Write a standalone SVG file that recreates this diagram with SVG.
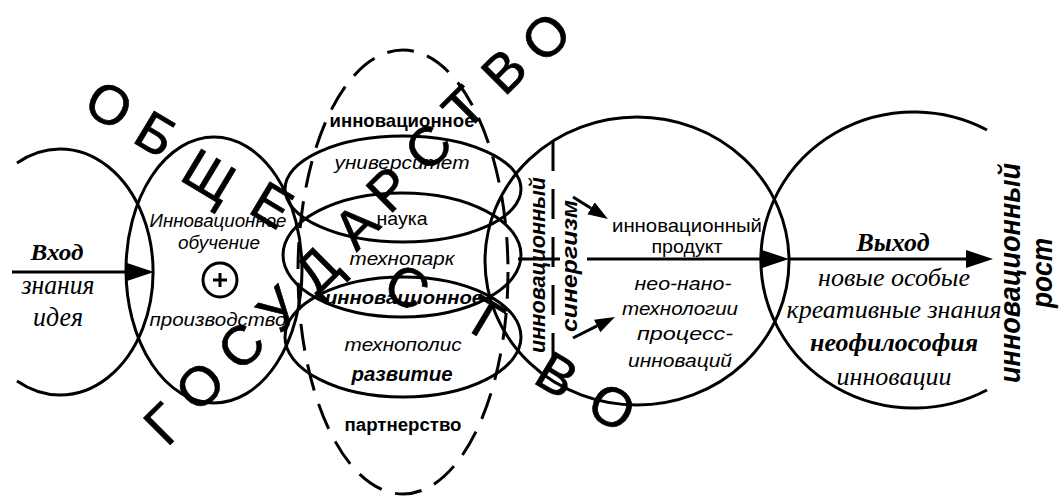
<svg xmlns="http://www.w3.org/2000/svg" width="1064" height="497" viewBox="0 0 1064 497">
<defs>
<style>
.l{fill:none;stroke:#000;stroke-width:3}
.d{fill:none;stroke:#000;stroke-width:3;stroke-dasharray:27 14}
.v{fill:none;stroke:#000;stroke-width:3;stroke-dasharray:30 18}
.s{font-family:"Liberation Sans",Arial,sans-serif;fill:#000}
.t{font-family:"Liberation Serif","Times New Roman",serif;fill:#000}
.i{font-style:italic}
.b{font-weight:bold}
.c{text-anchor:middle}
.big{font-family:"Liberation Sans",Arial,sans-serif;font-size:55px;text-anchor:middle;fill:#000;stroke:#000;stroke-width:0.7}
</style>
<marker id="ah" markerUnits="userSpaceOnUse" markerWidth="28" markerHeight="20" refX="0" refY="9" orient="auto">
<path d="M0,0 L27,9 L0,18 z" fill="#000"/>
</marker>
<marker id="as" markerUnits="userSpaceOnUse" markerWidth="22" markerHeight="16" refX="0" refY="7" orient="auto">
<path d="M0,0 L20,7 L0,14 z" fill="#000"/>
</marker>
</defs>
<rect width="1064" height="497" fill="#fff"/>

<g id="input">
<path class="l" d="M17,163 A93,123 0 1 1 17,381"/>
<text class="t i b c" x="57" y="260" font-size="24" textLength="53" lengthAdjust="spacingAndGlyphs">Вход</text>
<text class="t i c" x="58" y="294" font-size="28" textLength="73" lengthAdjust="spacingAndGlyphs">знания</text>
<text class="t i c" x="58" y="326" font-size="28" textLength="50" lengthAdjust="spacingAndGlyphs">идея</text>
</g>

<g id="learning">
<ellipse class="l" cx="214" cy="270" rx="88" ry="133"/>
<text class="s i c" x="218" y="227" font-size="18" textLength="137" lengthAdjust="spacingAndGlyphs">Инновационное</text>
<text class="s i c" x="219" y="249" font-size="18" textLength="82" lengthAdjust="spacingAndGlyphs">обучение</text>
<circle class="l" cx="220" cy="280" r="17"/>
<path d="M213,280 H227 M220,273 V287" stroke="#000" stroke-width="3"/>
<text class="s i c" x="218" y="326" font-size="18" textLength="137" lengthAdjust="spacingAndGlyphs">производство</text>
</g>

<g id="partnership">
<ellipse class="d" cx="403" cy="272" rx="105" ry="222"/>
<text class="s b c" x="402" y="127" font-size="19" textLength="145" lengthAdjust="spacingAndGlyphs">инновационное</text>
<text class="s b c" x="403" y="431" font-size="18" textLength="117" lengthAdjust="spacingAndGlyphs">партнерство</text>
</g>

<g id="university">
<ellipse class="l" cx="403" cy="189" rx="118" ry="53"/>
<text class="s i c" x="402" y="169" font-size="19" textLength="135" lengthAdjust="spacingAndGlyphs">университет</text>
</g>

<g id="technopark">
<ellipse class="l" cx="402" cy="255" rx="119" ry="62"/>
<text class="s c" x="402" y="225" font-size="19" textLength="51" lengthAdjust="spacingAndGlyphs">наука</text>
<text class="s i c" x="402" y="265" font-size="19" textLength="105" lengthAdjust="spacingAndGlyphs">технопарк</text>
<text class="s i b c" x="404" y="304" font-size="19" textLength="158" lengthAdjust="spacingAndGlyphs">инновационное</text>
</g>

<g id="technopolis">
<ellipse class="l" cx="403" cy="337" rx="118" ry="60"/>
<text class="s i c" x="403" y="351" font-size="19" textLength="117" lengthAdjust="spacingAndGlyphs">технополис</text>
<text class="s i b c" x="402" y="381" font-size="20" textLength="101" lengthAdjust="spacingAndGlyphs">развитие</text>
</g>

<g id="product">
<ellipse class="l" cx="637" cy="261" rx="152" ry="144"/>
<line class="v" x1="553" y1="141" x2="553" y2="381"/>
<text class="s i b c" transform="translate(545,265) rotate(-90)" font-size="22" textLength="176" lengthAdjust="spacingAndGlyphs">инновационный</text>
<text class="s i b c" transform="translate(577,266) rotate(-90)" font-size="22" textLength="132" lengthAdjust="spacingAndGlyphs">синергизм</text>
<text class="s c" x="687" y="232" font-size="19" textLength="150" lengthAdjust="spacingAndGlyphs">инновационный</text>
<text class="s c" x="687" y="253" font-size="19" textLength="71" lengthAdjust="spacingAndGlyphs">продукт</text>
<text class="s i c" x="683" y="290" font-size="19" textLength="97" lengthAdjust="spacingAndGlyphs">нео-нано-</text>
<text class="s i c" x="680" y="315" font-size="19" textLength="116" lengthAdjust="spacingAndGlyphs">технологии</text>
<text class="s i c" x="685" y="340" font-size="19" textLength="96" lengthAdjust="spacingAndGlyphs">процесс-</text>
<text class="s i c" x="680" y="367" font-size="19" textLength="104" lengthAdjust="spacingAndGlyphs">инноваций</text>
</g>

<g id="output">
<path class="l" d="M987,130 A153,148 0 1 0 987,390"/>
<text class="t i b c" x="893" y="251" font-size="25" textLength="73" lengthAdjust="spacingAndGlyphs">Выход</text>
<text class="t i c" x="894" y="286" font-size="26" textLength="152" lengthAdjust="spacingAndGlyphs">новые особые</text>
<text class="t i c" x="894" y="318" font-size="26" textLength="215" lengthAdjust="spacingAndGlyphs">креативные знания</text>
<text class="t i b c" x="894" y="351" font-size="26" textLength="168" lengthAdjust="spacingAndGlyphs">неофилософия</text>
<text class="t i c" x="894" y="385" font-size="26" textLength="115" lengthAdjust="spacingAndGlyphs">инновации</text>
</g>

<g id="growth">
<g transform="translate(1020,273) rotate(-90)">
<text class="s i b c" x="0" y="0" font-size="29" textLength="220" lengthAdjust="spacingAndGlyphs">инновационный</text>
<text class="s i b c" x="0" y="32" font-size="29" textLength="70" lengthAdjust="spacingAndGlyphs">рост</text>
</g>
</g>

<g id="obshchestvo">
<text class="big" transform="translate(109,105) rotate(31)" y="19">О</text>
<text class="big" transform="translate(156,134) rotate(31)" y="19">Б</text>
<text class="big" transform="translate(210,176) rotate(31)" y="19">Щ</text>
<text class="big" transform="translate(272,205) rotate(31)" y="19">Е</text>
<text class="big" transform="translate(407,287) rotate(31)" y="19">С</text>
<text class="big" transform="translate(484,318) rotate(31)" y="19">Т</text>
<text class="big" transform="translate(557,375) rotate(31)" y="19">В</text>
<text class="big" transform="translate(612,407) rotate(31)" y="19">О</text>
</g>

<g id="gosudarstvo">
<text class="big" transform="translate(164,424) rotate(-45)" y="19">Г</text>
<text class="big" transform="translate(200,386) rotate(-45)" y="19">О</text>
<text class="big" transform="translate(241,346) rotate(-45)" y="19">С</text>
<text class="big" transform="translate(279,309) rotate(-45)" y="19">У</text>
<text class="big" transform="translate(317,270) rotate(-45)" y="19">Д</text>
<text class="big" transform="translate(356,226) rotate(-45)" y="19">А</text>
<text class="big" transform="translate(389,189) rotate(-45)" y="19">Р</text>
<text class="big" transform="translate(428,147) rotate(-45)" y="19">С</text>
<text class="big" transform="translate(464,108) rotate(-45)" y="19">Т</text>
<text class="big" transform="translate(504,71) rotate(-45)" y="19">В</text>
<text class="big" transform="translate(546,37) rotate(-45)" y="19" font-size="52">О</text>
</g>

<g id="connectors">
<line class="l" x1="12" y1="272" x2="127" y2="272" marker-end="url(#ah)"/>
<line class="l" x1="518" y1="259" x2="560" y2="259"/>
<line class="l" x1="587" y1="259" x2="762" y2="259" marker-end="url(#ah)"/>
<line class="l" x1="789" y1="259" x2="966" y2="259" marker-end="url(#ah)"/>
<line class="l" x1="573" y1="197" x2="591" y2="208.3" marker-end="url(#as)"/>
<line class="l" x1="573" y1="338" x2="597.1" y2="325.9" marker-end="url(#as)"/>
</g>
</svg>
